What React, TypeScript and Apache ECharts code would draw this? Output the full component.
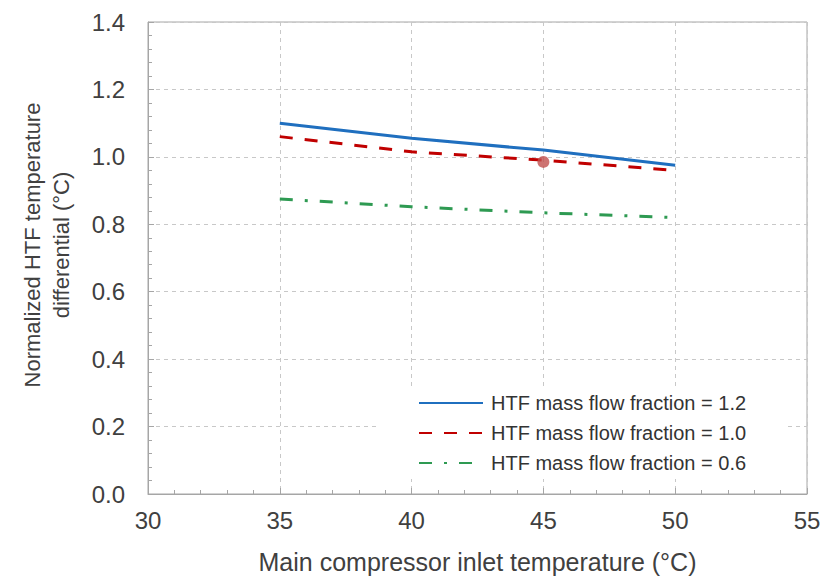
import React, { useEffect, useRef } from "react";
import * as echarts from "echarts";

const temps = [35, 40, 45, 50];
const flow12 = [1.1, 1.055, 1.02, 0.975];
const flow10 = [1.06, 1.015, 0.99, 0.96];
const flow06 = [0.875, 0.852, 0.834, 0.82];
const designPoint = [[45, 0.985]];
const seriesNames = [
  "HTF mass flow fraction = 1.2",
  "HTF mass flow fraction = 1.0",
  "HTF mass flow fraction = 0.6",
];

const FONT = "'Liberation Sans', Arial, sans-serif";

export default function App() {
  const ref = useRef<HTMLDivElement>(null);
  useEffect(() => {
    if (!ref.current) return;
    const chart = echarts.init(ref.current, undefined, { renderer: "svg" });
    const pair = (ys: number[]) => temps.map((t, i) => [t, ys[i]]);
    chart.setOption({
      animation: false,
      backgroundColor: "#ffffff",
      textStyle: { fontFamily: FONT },
      grid: {
        left: 148,
        right: 19,
        top: 22,
        bottom: 83,
        show: true,
        borderColor: "#a6a6a6",
        borderWidth: 1,
        outerBoundsMode: "none",
        containLabel: false,
      },
      xAxis: {
        type: "value",
        min: 30,
        max: 55,
        interval: 5,
        name: "Main compressor inlet temperature (°C)",
        nameLocation: "middle",
        nameGap: 55,
        nameTextStyle: { fontSize: 25, color: "#404040", fontFamily: FONT },
        axisLine: { lineStyle: { color: "#a6a6a6" } },
        axisTick: { inside: true, length: 6, lineStyle: { color: "#a6a6a6" } },
        minorTick: { show: true, splitNumber: 5, length: 4, lineStyle: { color: "#a6a6a6" } },
        axisLabel: { fontSize: 24, color: "#404040", margin: 14, fontFamily: FONT },
        splitLine: { show: true, lineStyle: { color: "#c8c8c8", type: [4, 4] } },
      },
      yAxis: {
        type: "value",
        min: 0,
        max: 1.4,
        interval: 0.2,
        axisLine: { show: true, lineStyle: { color: "#a6a6a6" } },
        axisTick: { show: true, inside: true, length: 6, lineStyle: { color: "#a6a6a6" } },
        minorTick: { show: true, splitNumber: 5, length: 4, lineStyle: { color: "#a6a6a6" } },
        axisLabel: {
          fontSize: 24,
          color: "#404040",
          margin: 23,
          fontFamily: FONT,
          formatter: (v: number) => v.toFixed(1),
        },
        splitLine: { show: true, lineStyle: { color: "#c8c8c8", type: [4, 4] } },
      },
      legend: {
        orient: "vertical",
        left: 378,
        top: 386,
        itemWidth: 64,
        itemHeight: 14,
        itemGap: 10,
        padding: [7, 40, 6, 40],
        backgroundColor: "#ffffff",
        data: seriesNames,
        itemStyle: { opacity: 0 },
        textStyle: { fontSize: 20, color: "#333333", fontFamily: FONT, padding: [0, 0, 0, 3] },
      },
      graphic: [
        {
          type: "text",
          x: 47,
          y: 245,
          rotation: Math.PI / 2,
          style: {
            text: "Normalized HTF temperature\ndifferential (°C)",
            fontSize: 22,
            lineHeight: 29,
            fill: "#404040",
            fontFamily: FONT,
            align: "center",
            verticalAlign: "middle",
          },
        },
      ],
      series: [
        {
          name: seriesNames[0],
          type: "line",
          data: pair(flow12),
          showSymbol: false,
          symbol: "none",
          color: "#1f6fbf",
          lineStyle: { color: "#1f6fbf", width: 3 },
        },
        {
          name: seriesNames[1],
          type: "line",
          data: pair(flow10),
          showSymbol: false,
          symbol: "none",
          color: "#c00000",
          lineStyle: { color: "#c00000", width: 3, type: [13, 12] },
        },
        {
          name: seriesNames[2],
          type: "line",
          data: pair(flow06),
          showSymbol: false,
          symbol: "none",
          color: "#2e9a52",
          lineStyle: { color: "#2e9a52", width: 3, type: [13, 12, 3, 12] },
        },
        {
          name: "Design point",
          type: "scatter",
          data: designPoint,
          symbol: "circle",
          symbolSize: 12,
          itemStyle: { color: "#c0504d" },
          z: 5,
        },
      ],
    });
    return () => chart.dispose();
  }, []);
  return (
    <div
      ref={ref}
      style={{ position: "absolute", left: 0, top: 0, width: 826, height: 577 }}
    />
  );
}
